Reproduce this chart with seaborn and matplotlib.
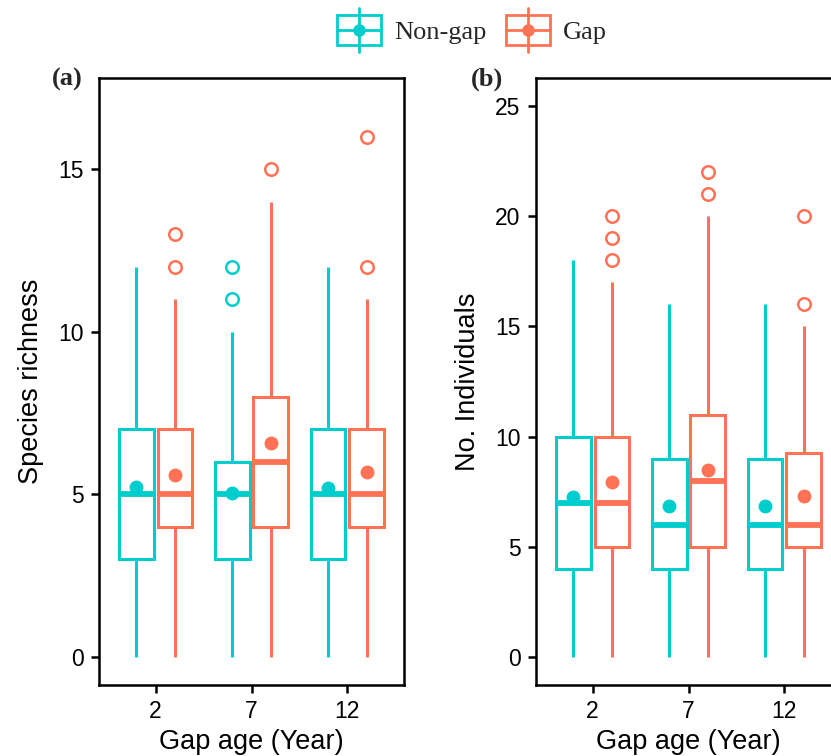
import numpy as np
import pandas as pd
import seaborn as sns
import matplotlib.pyplot as plt
from matplotlib import font_manager
from matplotlib.legend_handler import HandlerBase
from matplotlib.patches import Rectangle
from matplotlib.lines import Line2D

sns.set_theme(style="ticks")

# fonte sans (tenta a versao estreita se existir)
nomes = {f.name for f in font_manager.fontManager.ttflist}
sans = "Liberation Sans Narrow" if "Liberation Sans Narrow" in nomes else "Liberation Sans"
plt.rcParams["font.family"] = [sans, "DejaVu Sans"]

# categorias
years = ["2", "7", "12"]
groups = ["Non-gap", "Gap"]
colors = {"Non-gap": "#00CDCD", "Gap": "#FF7256"}

# (a) riqueza de especies
rich_low = {"Non-gap": [0, 0, 0], "Gap": [0, 0, 0]}
rich_q1 = {"Non-gap": [3, 3, 3], "Gap": [4, 4, 4]}
rich_med = {"Non-gap": [5, 5, 5], "Gap": [5, 6, 5]}
rich_q3 = {"Non-gap": [7, 6, 7], "Gap": [7, 8, 7]}
rich_high = {"Non-gap": [12, 10, 12], "Gap": [11, 14, 11]}
rich_out = {"Non-gap": [[], [11, 12], []], "Gap": [[12, 13], [15], [12, 16]]}
rich_mean = {"Non-gap": [5.22, 5.03, 5.2], "Gap": [5.59, 6.59, 5.7]}

# (b) numero de individuos
ind_low = {"Non-gap": [0, 0, 0], "Gap": [0, 0, 0]}
ind_q1 = {"Non-gap": [4, 4, 4], "Gap": [5, 5, 5]}
ind_med = {"Non-gap": [7, 6, 6], "Gap": [7, 8, 6]}
ind_q3 = {"Non-gap": [10, 9, 9], "Gap": [10, 11, 9.27]}
ind_high = {"Non-gap": [18, 16, 16], "Gap": [17, 20, 15]}
ind_out = {"Non-gap": [[], [], []], "Gap": [[18, 19, 20], [21, 22], [16, 20]]}
ind_mean = {"Non-gap": [7.27, 6.87, 6.87], "Gap": [7.95, 8.5, 7.32]}


def painel(ax, low, q1, med, q3, high, out, mean, ylabel, yticks, ylim):
    offs = {"Non-gap": -0.2, "Gap": 0.2}
    for g in groups:
        c = colors[g]
        stats = []
        for i in range(len(years)):
            stats.append(dict(whislo=low[g][i], q1=q1[g][i], med=med[g][i],
                              q3=q3[g][i], whishi=high[g][i], fliers=out[g][i]))
        ax.bxp(stats, positions=[i + offs[g] for i in range(len(years))], widths=0.36,
               showcaps=False, patch_artist=True, manage_ticks=False,
               boxprops=dict(facecolor="white", edgecolor=c, linewidth=2.2),
               whiskerprops=dict(color=c, linewidth=2.2, solid_capstyle="butt"),
               medianprops=dict(color=c, linewidth=4.2, solid_capstyle="butt"),
               flierprops=dict(marker="o", markerfacecolor="none", markeredgecolor=c,
                               markersize=9, markeredgewidth=1.8))
    df = pd.DataFrame({
        "year": years * 2,
        "group": [g for g in groups for _ in years],
        "mean": mean["Non-gap"] + mean["Gap"],
    })
    sns.stripplot(data=df, x="year", y="mean", hue="group", hue_order=groups,
                  palette=colors, dodge=True, jitter=False, size=10,
                  linewidth=0, legend=False, zorder=5, ax=ax)
    ax.set_xlim(-0.59, 2.59)
    ax.set_ylim(*ylim)
    ax.set_yticks(yticks)
    ax.set_xticks(range(len(years)))
    ax.set_xticklabels(years)
    ax.set_xlabel("Gap age (Year)", fontsize=19.5, color="black", labelpad=4)
    ax.set_ylabel(ylabel, fontsize=19.5, color="black", labelpad=10)
    ax.tick_params(axis="both", direction="out", length=6, width=1.8, color="black",
                   labelsize=16.5, labelcolor="black", pad=5)
    for s in ax.spines.values():
        s.set_visible(True)
        s.set_color("black")
        s.set_linewidth(1.8)
    ax.grid(False)


class BoxKey(HandlerBase):
    def create_artists(self, legend, orig_handle, xdescent, ydescent, width, height,
                       fontsize, trans):
        c = orig_handle.get_color()
        x0, y0 = -xdescent, -ydescent
        rect = Rectangle((x0, y0), width, height, facecolor="white", edgecolor=c,
                         linewidth=2.0, transform=trans)
        vline = Line2D([x0 + width / 2] * 2, [y0 - 0.22 * height, y0 + 1.22 * height],
                       color=c, linewidth=2.0, transform=trans)
        hline = Line2D([x0, x0 + width], [y0 + height / 2] * 2, color=c, linewidth=2.0,
                       transform=trans)
        dot = Line2D([x0 + width / 2], [y0 + height / 2], marker="o", markersize=8,
                     color=c, linestyle="none", transform=trans)
        return [rect, vline, hline, dot]


fig = plt.figure(figsize=(8.31, 7.56), dpi=100)
ax1 = fig.add_axes([99 / 831, 71 / 756, 305 / 831, 607 / 756])
ax2 = fig.add_axes([536 / 831, 71 / 756, 305 / 831, 607 / 756])

painel(ax1, rich_low, rich_q1, rich_med, rich_q3, rich_high, rich_out, rich_mean,
       "Species richness", [0, 5, 10, 15], (-0.86, 17.8))
painel(ax2, ind_low, ind_q1, ind_med, ind_q3, ind_high, ind_out, ind_mean,
       "No. Individuals", [0, 5, 10, 15, 20, 25], (-1.27, 26.27))

serif = ["Liberation Serif", "DejaVu Serif"]
fig.text(52 / 831, 1 - 79 / 756, "(a)", family=serif, fontweight="bold", fontsize=19,
         va="center", ha="left")
fig.text(471 / 831, 1 - 79 / 756, "(b)", family=serif, fontweight="bold", fontsize=19,
         va="center", ha="left")

handles = [Line2D([], [], color=colors[g]) for g in groups]
fig.legend(handles, groups, loc="center", bbox_to_anchor=(0.568, 1 - 30 / 756), ncol=2,
           frameon=False, handler_map={Line2D: BoxKey()}, handlelength=1.65,
           handleheight=1.4, handletextpad=0.5, columnspacing=0.75,
           prop={"family": serif, "size": 19})

plt.savefig("out.png", dpi=100)
